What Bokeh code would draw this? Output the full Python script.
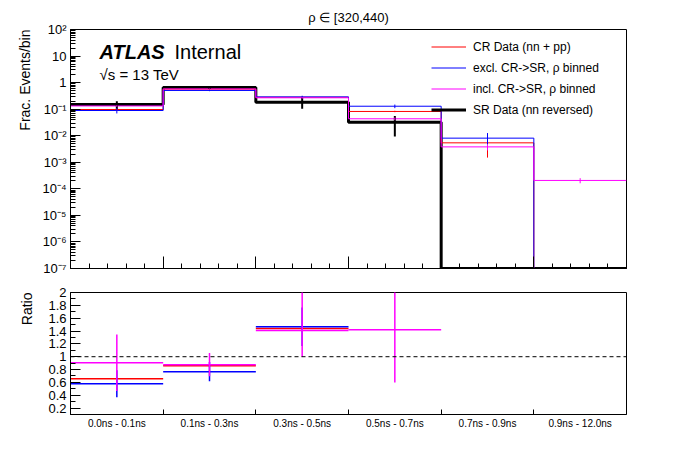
import numpy as np
from bokeh.embed import file_html
from bokeh.layouts import column
from bokeh.models import CustomJSTickFormatter
from bokeh.models import FixedTicker
from bokeh.models import Label
from bokeh.models import Legend
from bokeh.models import LegendItem
from bokeh.models import LinearAxis
from bokeh.models import NumeralTickFormatter
from bokeh.models import Span
from bokeh.models import Title
from bokeh.plotting import figure
from bokeh.resources import INLINE

nan = np.nan

# Bins (index space) and their labels.
bin_edges = [0, 1, 2, 3, 4, 5, 6]
bin_labels = [
    "0.0ns - 0.1ns",
    "0.1ns - 0.3ns",
    "0.3ns - 0.5ns",
    "0.5ns - 0.7ns",
    "0.7ns - 0.9ns",
    "0.9ns - 12.0ns",
]

# Upper panel: fraction of events per bin.
sr_data = [0.150, 0.66, 0.183, 0.0324, 0.0, 0.0]
sr_err = [0.05, 0.08, 0.08, 0.023, 0.0, 0.0]
cr_data = [0.097, 0.568, 0.28, 0.082, 0.0054, 0.0]
cr_err = [0.01, 0.02, 0.02, 0.005, 0.0039, 0.0]
excl_pred = [0.089, 0.506, 0.29, 0.129, 0.0081, 0.0]
excl_err = [0.02, 0.03, 0.03, 0.02, 0.0045, 0.0]
incl_pred = [0.132, 0.578, 0.268, 0.0435, 0.0038, 0.000207]
incl_err = [0.01, 0.02, 0.02, 0.005, 0.001, 0.000045]

# Lower panel: ratio prediction / SR data.
ratio_cr = [0.658, 0.86, 1.44, nan, nan, nan]
ratio_excl = [0.58, 0.767, 1.467, nan, nan, nan]
ratio_excl_err = [0.21, 0.15, 0.3, nan, nan, nan]
ratio_incl = [0.907, 0.876, 1.41, 1.42, nan, nan]
ratio_incl_err_up = [0.44, 0.18, 0.6, 0.82, nan, nan]
ratio_incl_err_down = [0.44, 0.18, 0.41, 0.82, nan, nan]

title_text = "\u03c1 \u2208 [320,440)"
font = "Liberation Sans"
y_floor = 1e-7

edges = np.array(bin_edges, dtype=float)
centers = 0.5 * (edges[:-1] + edges[1:])


def style_axes(p):
    p.xgrid.grid_line_color = None
    p.ygrid.grid_line_color = None
    p.outline_line_color = "black"
    p.outline_line_alpha = 1.0
    for ax in p.xaxis + p.yaxis:
        ax.major_tick_out = 0
        ax.minor_tick_out = 0
        ax.axis_line_color = "black"
        ax.major_tick_line_color = "black"
        ax.minor_tick_line_color = "black"
        ax.major_label_text_font = font
        ax.major_label_text_color = "black"


def side_title(p, text, standoff):
    t = Title(text=text, align="right", text_font=font, text_font_size="14px",
              text_font_style="normal", text_color="black", standoff=standoff, offset=0)
    p.add_layout(t, "left")


def hist_steps(p, vals, color, width):
    y = np.maximum(np.array(vals + [vals[-1]], dtype=float), y_floor)
    return p.step(x=edges, y=y, mode="after", line_color=color, line_width=width)


def hist_errors(p, vals, errs, color, width):
    v = np.array(vals, dtype=float)
    e = np.array(errs, dtype=float)
    mask = v > 0
    lo = np.maximum(v - e, y_floor)
    p.segment(x0=centers[mask], x1=centers[mask], y0=lo[mask], y1=(v + e)[mask],
              line_color=color, line_width=width)


# ---------------- upper panel ----------------
p1 = figure(
    width=696, height=280,
    x_range=(0, 6), y_range=(1e-7, 1e2), y_axis_type="log",
    min_border_left=70, min_border_right=70, min_border_top=29, min_border_bottom=12,
    output_backend="svg", toolbar_location=None,
)
style_axes(p1)
p1.title.text = title_text
p1.title.align = "center"
p1.title.text_font = font
p1.title.text_font_size = "13px"
p1.title.text_font_style = "normal"
p1.title.text_color = "black"
p1.title.standoff = 9

r_sr = hist_steps(p1, sr_data, "black", 3)
r_cr = hist_steps(p1, cr_data, "red", 1)
r_excl = hist_steps(p1, excl_pred, "blue", 1)
r_incl = hist_steps(p1, incl_pred, "magenta", 1)
hist_errors(p1, sr_data, sr_err, "black", 2)
hist_errors(p1, cr_data, cr_err, "red", 1)
hist_errors(p1, excl_pred, excl_err, "blue", 1)
hist_errors(p1, incl_pred, incl_err, "magenta", 1)

decades = 10.0 ** np.arange(-7, 3)
minor_decades = [m * d for d in decades[:-1] for m in range(2, 10)]
p1.yaxis.ticker = FixedTicker(ticks=list(decades), minor_ticks=minor_decades)
p1.yaxis.formatter = CustomJSTickFormatter(code="""
const e = Math.round(Math.log10(tick));
if (e == 0) return "1";
if (e == 1) return "10";
const sup = {"-": "\u207b", "0": "\u2070", "1": "\u00b9", "2": "\u00b2", "3": "\u00b3",
             "4": "\u2074", "5": "\u2075", "6": "\u2076", "7": "\u2077", "8": "\u2078", "9": "\u2079"};
return "10" + String(e).split("").map(c => sup[c]).join("");
""")
p1.yaxis.major_tick_in = 10
p1.yaxis.minor_tick_in = 5
p1.yaxis.major_label_text_font_size = "13px"
p1.yaxis.major_label_standoff = 4
side_title(p1, "Frac. Events/bin", 14)

# x ticks of the upper panel: short sub-bin ticks and long ticks at bin edges, no labels
minor_x = [e + f for e in bin_edges[:-1] for f in (0.2, 0.4, 0.6, 0.8)]
p1.xaxis.ticker = FixedTicker(ticks=[], minor_ticks=minor_x)
p1.xaxis.minor_tick_in = 5
p1.xaxis.major_label_standoff = 0
edge_axis = LinearAxis(ticker=FixedTicker(ticks=[], minor_ticks=bin_edges),
                       axis_line_color=None, minor_tick_in=12, minor_tick_out=0,
                       minor_tick_line_color="black", major_tick_out=0,
                       major_label_standoff=0)
p1.add_layout(edge_axis, "below")

legend = Legend(
    items=[
        LegendItem(label="CR Data (nn + pp)", renderers=[r_cr]),
        LegendItem(label="excl. CR->SR, \u03c1 binned", renderers=[r_excl]),
        LegendItem(label="incl. CR->SR, \u03c1 binned", renderers=[r_incl]),
        LegendItem(label="SR Data (nn reversed)", renderers=[r_sr]),
    ],
    location=(361, 148),
    glyph_width=35, glyph_height=21, label_height=21, label_standoff=7,
    spacing=0, padding=0, margin=0,
    border_line_color=None, background_fill_alpha=0,
    label_text_font=font, label_text_font_size="12px", label_text_color="black",
)
p1.add_layout(legend)

p1.add_layout(Label(x=29, y=217, x_units="screen", y_units="screen", text="ATLAS",
                    text_font=font, text_font_size="20px", text_font_style="bold italic",
                    text_color="black", text_baseline="alphabetic"))
p1.add_layout(Label(x=104, y=217, x_units="screen", y_units="screen", text="Internal",
                    text_font=font, text_font_size="20px", text_color="black",
                    text_baseline="alphabetic"))
p1.add_layout(Label(x=29, y=194, x_units="screen", y_units="screen", text="\u221as = 13 TeV",
                    text_font=font, text_font_size="15px", text_color="black",
                    text_baseline="alphabetic"))

# ---------------- ratio panel ----------------
p2 = figure(
    width=696, height=192,
    x_range=p1.x_range, y_range=(0.1, 2.0),
    min_border_left=70, min_border_right=70, min_border_top=12, min_border_bottom=58,
    output_backend="svg", toolbar_location=None, title=None,
)
style_axes(p2)

p2.add_layout(Span(location=1.0, dimension="width", line_color="black",
                   line_width=1, line_dash="4 3"))

rc = np.array(ratio_cr)
re_ = np.array(ratio_excl)
ree = np.array(ratio_excl_err)
ri = np.array(ratio_incl)
riu = np.array(ratio_incl_err_up)
rid = np.array(ratio_incl_err_down)

p2.segment(x0=edges[:-1], x1=edges[1:], y0=rc, y1=rc, line_color="red", line_width=1.5)
p2.segment(x0=edges[:-1], x1=edges[1:], y0=re_, y1=re_, line_color="blue", line_width=1.5)
p2.segment(x0=centers, x1=centers, y0=re_ - ree, y1=re_ + ree, line_color="blue", line_width=1.5)
p2.segment(x0=edges[:-1], x1=edges[1:], y0=ri, y1=ri, line_color="magenta", line_width=1.5)
p2.segment(x0=centers, x1=centers, y0=ri - rid, y1=ri + riu, line_color="magenta", line_width=1.5)

ratio_ticks = list(np.round(np.arange(0.2, 2.01, 0.2), 1))
ratio_minor = list(np.round(np.arange(0.1, 2.0, 0.1), 1))
p2.yaxis.ticker = FixedTicker(ticks=ratio_ticks, minor_ticks=ratio_minor)
p2.yaxis.formatter = NumeralTickFormatter(format="0.[0]")
p2.yaxis.major_tick_in = 10
p2.yaxis.minor_tick_in = 5
p2.yaxis.major_label_text_font_size = "13px"
p2.yaxis.major_label_standoff = 4
side_title(p2, "Ratio", 21)

p2.xaxis.ticker = FixedTicker(ticks=list(centers), minor_ticks=bin_edges[1:-1])
p2.xaxis.formatter = CustomJSTickFormatter(args=dict(labels=bin_labels),
                                           code="return labels[Math.floor(tick)] ?? '';")
p2.xaxis.major_tick_line_color = None
p2.xaxis.minor_tick_in = 5
p2.xaxis.major_label_text_font_size = "10px"
p2.xaxis.major_label_standoff = 3

layout = column(p1, p2, spacing=0)
open("out.html", "w").write(file_html(layout, INLINE))
